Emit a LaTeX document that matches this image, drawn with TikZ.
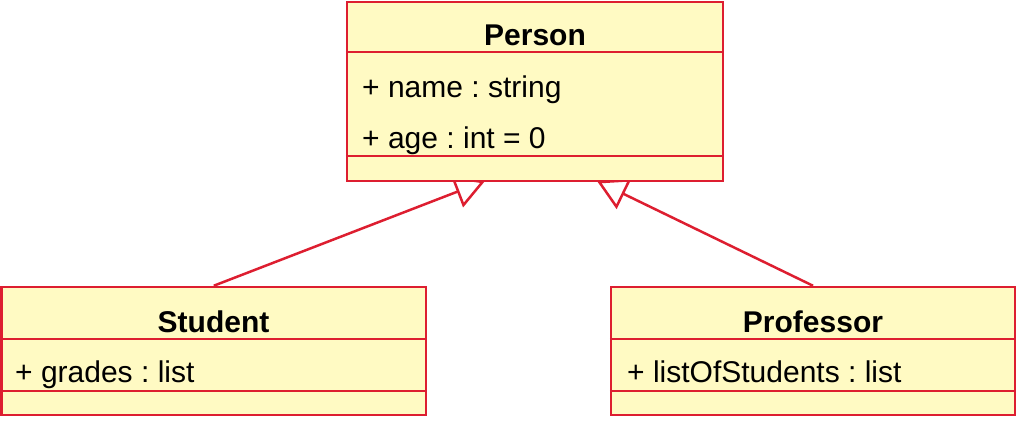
\documentclass[tikz,border=0pt]{standalone}
\usepackage{fontspec}
\setmainfont{Liberation Sans}
\usetikzlibrary{arrows.meta,backgrounds}
\definecolor{umlred}{RGB}{221,30,48}
\definecolor{umlfill}{RGB}{255,250,195}
\tikzset{
  classbox/.style={draw=umlred, fill=umlfill, line width=2.5pt, rectangle, inner sep=0pt},
  divider/.style={draw=umlred, line width=2.5pt},
  title/.style={anchor=base, inner sep=0pt, font=\fontsize{30}{36}\selectfont\bfseries},
  attr/.style={anchor=base west, inner sep=0pt, font=\frenchspacing\fontsize{30}{36}\selectfont},
  inherit/.style={draw=umlred, line width=2.5pt, -{Triangle[open, length=30pt, width=33pt]}},
}
\begin{document}
\frenchspacing
\begin{tikzpicture}[x=1pt, y=-1pt]
\useasboundingbox (0,0) rectangle (1023,426);
% boxes
\node[classbox, minimum width=376pt, minimum height=179pt] (person) at (535,91.5) {};
\node[classbox, minimum width=424.5pt, minimum height=128pt] (student) at (213.75,351) {};
\node[classbox, minimum width=404pt, minimum height=128pt] (professor) at (813,351) {};
% dividers
\draw[divider] (person.west |- 0,52) -- (person.east |- 0,52);
\draw[divider] (person.west |- 0,156) -- (person.east |- 0,156);
\draw[divider] (student.west |- 0,339) -- (student.east |- 0,339);
\draw[divider] (student.west |- 0,391) -- (student.east |- 0,391);
\draw[divider] (professor.west |- 0,339) -- (professor.east |- 0,339);
\draw[divider] (professor.west |- 0,391) -- (professor.east |- 0,391);
% texts
\node[title] (ptitle) at (535,45) {Person};
\node[attr] (pname) at (362,97) {+ name : string};
\node[attr] (page) at (362,148) {+ age : int = 0};
\node[title] (stitle) at (213.5,332) {Student};
\node[attr] (sgrades) at (15,382) {+ grades : list};
\node[title] (prtitle) at (813,332) {Professor};
\node[attr] (prlist) at (627,382) {+ listOfStudents : list};
% connectors
\coordinate (pinL) at (485,181);
\coordinate (pinR) at (597,181);
\begin{scope}[on background layer]
\draw[inherit] (student.north) -- (pinL);
\draw[inherit] (professor.north) -- (pinR);
\end{scope}
\end{tikzpicture}
\end{document}
